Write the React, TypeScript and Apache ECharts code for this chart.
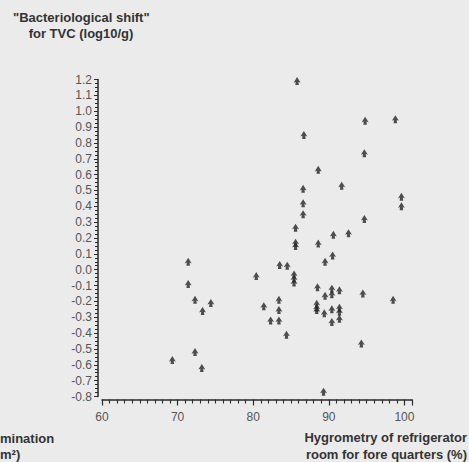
import React, { useEffect, useRef } from "react";
import * as echarts from "echarts";

// Hygrometry of refrigerator room (%) and bacteriological shift (log10/g)
const hygrometry: number[] = [
  71.4, 71.4, 72.3, 74.4, 73.3, 72.3, 69.3, 73.2, 80.4, 85.8,
  94.8, 98.8, 86.7, 94.7, 88.6, 86.6, 91.7, 86.6, 99.6, 99.6,
  86.6, 94.7, 85.6, 90.6, 92.6, 85.6, 85.6, 88.6, 90.5, 89.5,
  83.5, 84.5, 85.4, 85.4, 85.4, 88.5, 90.4, 90.4, 91.4, 89.5,
  94.5, 98.5, 83.4, 81.4, 83.4, 88.4, 88.4, 88.4, 89.4, 90.4,
  91.4, 91.4, 91.4, 90.4, 82.3, 83.4, 84.4, 94.3, 89.3,
];
const shift: number[] = [
  0.05, -0.09, -0.19, -0.21, -0.26, -0.52, -0.57, -0.62, -0.04, 1.19,
  0.94, 0.95, 0.85, 0.735, 0.63, 0.51, 0.53, 0.42, 0.46, 0.4,
  0.35, 0.32, 0.265, 0.22, 0.23, 0.17, 0.15, 0.165, 0.09, 0.05,
  0.03, 0.025, -0.03, -0.055, -0.08, -0.11, -0.12, -0.155, -0.13, -0.165,
  -0.15, -0.19, -0.19, -0.23, -0.255, -0.215, -0.24, -0.255, -0.275, -0.25,
  -0.24, -0.265, -0.31, -0.33, -0.32, -0.32, -0.41, -0.465, -0.77,
];
// tick label range / step
const xTicks = { min: 60, max: 101, step: 10 };
const yTicks = { min: -0.8, max: 1.2, step: 0.1 };

const FONT = '"Liberation Sans", Arial, sans-serif';

export default function App() {
  const ref = useRef<HTMLDivElement>(null);
  useEffect(() => {
    if (!ref.current) return;
    const chart = echarts.init(ref.current, undefined, { renderer: "svg" });
    const axisColor = "#2a2a2a";
    const data = hygrometry.map((x, i) => [x, shift[i]]);

    chart.setOption({
      animation: false,
      backgroundColor: "#ebebeb",
      grid: { left: 102, right: 57, top: 79.5, bottom: 65.5, containLabel: false },
      xAxis: {
        type: "value", min: xTicks.min, max: xTicks.max, interval: xTicks.step,
        position: "bottom", offset: 3,
        axisLine: { show: true, onZero: false, lineStyle: { color: axisColor, width: 1.5 } },
        axisTick: { show: true, length: 6, lineStyle: { color: axisColor, width: 1.2 } },
        minorTick: { show: true, splitNumber: 10, length: 4, lineStyle: { color: axisColor, width: 1.1 } },
        axisLabel: {
          show: true, margin: 11, showMaxLabel: false,
          fontSize: 12, fontFamily: FONT, color: "#555",
        },
        splitLine: { show: false },
        minorSplitLine: { show: false },
      },
      yAxis: {
        type: "value", min: yTicks.min, max: yTicks.max, interval: yTicks.step,
        position: "left", offset: 4,
        axisLine: { show: true, onZero: false, lineStyle: { color: axisColor, width: 1.5 } },
        axisTick: { show: true, length: 4, lineStyle: { color: axisColor, width: 1 } },
        minorTick: { show: true, splitNumber: 4, length: 3, lineStyle: { color: axisColor, width: 1 } },
        axisLabel: {
          show: true, margin: 6,
          fontSize: 12, fontFamily: FONT, color: "#555",
          formatter: (v: number) => (Math.abs(v) < 1e-9 ? "0.0" : v.toFixed(1)),
        },
        splitLine: { show: false },
        minorSplitLine: { show: false },
      },
      series: [
        {
          type: "scatter",
          data,
          symbol: "path://M5,0 L10,7 L7,6 L7.5,10 L2.5,10 L3,6 L0,7 Z",
          symbolSize: [7, 8],
          itemStyle: { color: "#262626" },
        },
      ],
      graphic: [
        {
          type: "text", x: 13, y: 17,
          style: { text: '"Bacteriological shift"', font: `bold 13px ${FONT}`, fill: "#333", verticalAlign: "middle" },
        },
        {
          type: "text", x: 81, y: 33,
          style: { text: "for TVC (log10/g)", font: `bold 13px ${FONT}`, fill: "#333", align: "center", verticalAlign: "middle" },
        },
        {
          type: "text", x: 467, y: 437,
          style: { text: "Hygrometry of refrigerator", font: `bold 13px ${FONT}`, fill: "#333", align: "right", verticalAlign: "middle" },
        },
        {
          type: "text", x: 467, y: 454,
          style: { text: "room for fore quarters (%)", font: `bold 13px ${FONT}`, fill: "#333", align: "right", verticalAlign: "middle" },
        },
        {
          type: "text", x: 0, y: 438,
          style: { text: "mination", font: `bold 13px ${FONT}`, fill: "#333", verticalAlign: "middle" },
        },
        {
          type: "text", x: 0, y: 454,
          style: { text: "m²)", font: `bold 13px ${FONT}`, fill: "#333", verticalAlign: "middle" },
        },
      ],
    });
    return () => chart.dispose();
  }, []);
  return (
    <div
      ref={ref}
      style={{ position: "fixed", left: 0, top: 0, width: 469, height: 462, background: "#ebebeb" }}
    />
  );
}
